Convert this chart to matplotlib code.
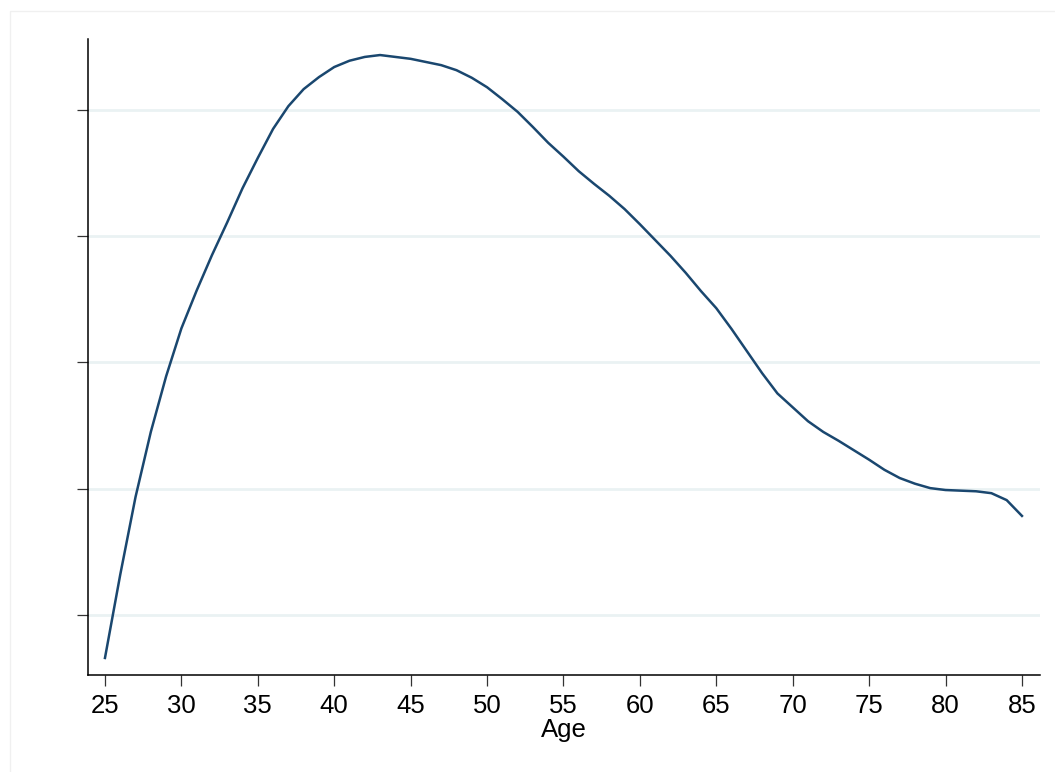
import numpy as np
import matplotlib
matplotlib.use("Agg")
import matplotlib.pyplot as plt
from matplotlib.patches import Rectangle

# Data (y in grid-line units, no labels shown)
age = list(range(25, 86))
value = [-0.34, 0.32, 0.935, 1.45, 1.89, 2.27, 2.57, 2.85, 3.11, 3.38,
         3.62, 3.85, 4.03, 4.165, 4.26, 4.34, 4.39, 4.42, 4.435, 4.42,
         4.405, 4.38, 4.355, 4.315, 4.255, 4.18, 4.085, 3.985, 3.865, 3.74,
         3.63, 3.515, 3.415, 3.32, 3.215, 3.095, 2.97, 2.845, 2.71, 2.565,
         2.43, 2.265, 2.09, 1.915, 1.755, 1.645, 1.535, 1.45, 1.38, 1.305,
         1.23, 1.15, 1.085, 1.04, 1.005, 0.99, 0.985, 0.98, 0.965, 0.91,
         0.785]
xticks = list(range(25, 90, 5))
yticks = [0, 1, 2, 3, 4]

plt.rcParams['font.family'] = ['Liberation Sans', 'DejaVu Sans']

fig = plt.figure(figsize=(10.55, 7.72), dpi=100)
# faint outer frame
fig.patches.append(Rectangle((10/1055, -0.1), 1.2, 761/772 + 0.1,
                             transform=fig.transFigure, fill=False,
                             edgecolor='#f0f0f0', lw=1.0))
ax = fig.add_axes([88/1055, 1 - 675/772, (1040-88)/1055, (675-39)/772])

ax.plot(age, value, color='#1a476f', lw=1.8, solid_joinstyle='round')

ax.set_xlim(23.89, 86.18)
ax.set_ylim(-0.475, 4.562)
ax.set_xticks(xticks)
ax.set_yticks(yticks)
ax.set_yticklabels([])
ax.grid(axis='y', color='#eaf2f3', lw=2)
ax.set_axisbelow(True)

for s in ['top', 'right']:
    ax.spines[s].set_visible(False)
for s in ['left', 'bottom']:
    ax.spines[s].set_linewidth(1.1)
    ax.spines[s].set_color('black')

ax.tick_params(axis='both', length=8, width=0.9, color='#333333',
               labelsize=18.5, pad=6)
ax.set_xlabel('Age', fontsize=18.5, labelpad=0)

fig.savefig('out.png', dpi=100)
